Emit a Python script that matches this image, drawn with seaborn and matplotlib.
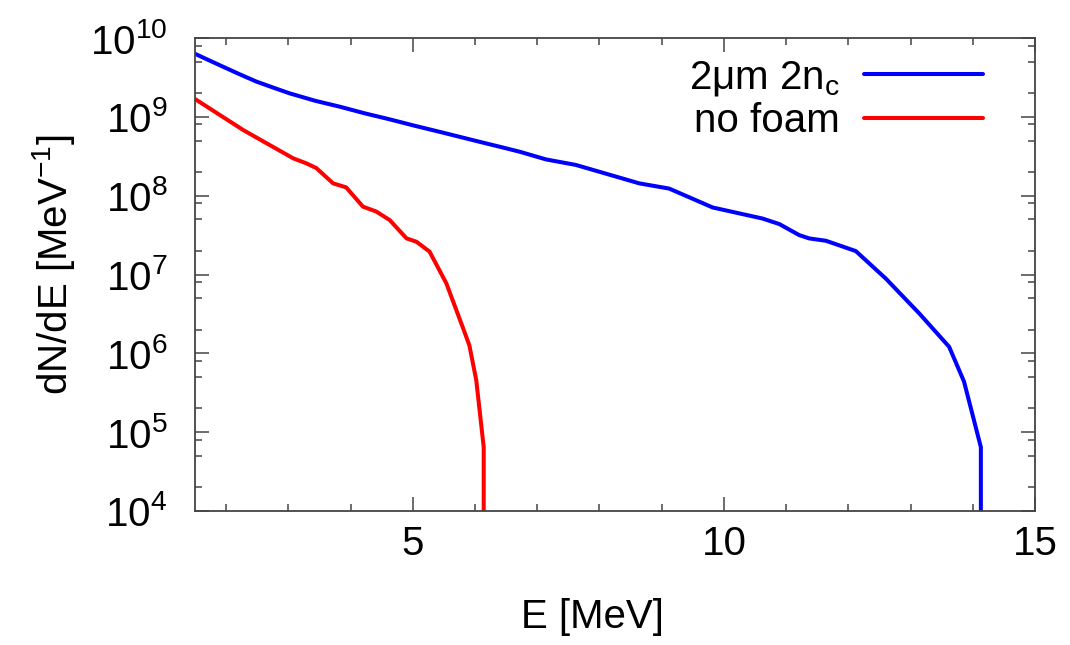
import numpy as np
import pandas as pd
import matplotlib
matplotlib.use("Agg")
import matplotlib.pyplot as plt
import matplotlib.ticker as mticker
import seaborn as sns

# ---- data ----
foam_E = [1.5, 1.69, 1.95, 2.22, 2.49, 2.76, 3.02, 3.43, 3.83, 4.23, 4.63, 5.03, 5.43,
          6.07, 6.40, 6.72, 7.14, 7.62, 8.64, 9.12, 9.82, 10.62, 10.89, 11.21, 11.37,
          11.64, 12.12, 12.60, 13.14, 13.62, 13.86, 14.13, 14.13]
foam_logN = [9.80, 9.73, 9.636, 9.539, 9.446, 9.37, 9.298, 9.204, 9.128, 9.044, 8.968,
             8.887, 8.81, 8.684, 8.62, 8.557, 8.46, 8.39, 8.156, 8.09, 7.85, 7.71, 7.64,
             7.50, 7.458, 7.428, 7.297, 6.95, 6.506, 6.083, 5.64, 4.81, 1.0]

nofoam_E = [1.5, 2.28, 3.08, 3.29, 3.45, 3.72, 3.93, 4.20, 4.41, 4.63, 4.90, 5.06,
            5.27, 5.54, 5.81, 5.91, 6.02, 6.14, 6.14]
nofoam_logN = [9.226, 8.83, 8.473, 8.41, 8.35, 8.156, 8.105, 7.86, 7.80, 7.69, 7.458,
               7.415, 7.29, 6.887, 6.316, 6.10, 5.66, 4.81, 1.0]

labels = [r"2μm 2n$_\mathregular{c}$", "no foam"]
colors = ["#0000ff", "#ff0000"]

df = pd.concat([
    pd.DataFrame({"E": foam_E, "dNdE": 10.0 ** np.array(foam_logN), "case": labels[0]}),
    pd.DataFrame({"E": nofoam_E, "dNdE": 10.0 ** np.array(nofoam_logN), "case": labels[1]}),
])

sns.set_style("ticks")
plt.rcParams["font.family"] = ["Liberation Sans", "DejaVu Sans"]
plt.rcParams["mathtext.fontset"] = "custom"
plt.rcParams["mathtext.rm"] = "Liberation Sans"
plt.rcParams["mathtext.it"] = "Liberation Sans:italic"
plt.rcParams["mathtext.default"] = "regular"
plt.rcParams["text.color"] = "black"
plt.rcParams["axes.labelcolor"] = "black"

fig = plt.figure(figsize=(10.7, 6.45), dpi=100)
ax = fig.add_axes([195 / 1070, 1 - 511 / 645, 840 / 1070, 473 / 645])

for lab, col in zip(labels, colors):
    sub = df[df["case"] == lab]
    sns.lineplot(data=sub, x="E", y="dNdE", ax=ax, color=col, linewidth=2.9,
                 estimator=None, sort=False, label=lab)

ax.set_yscale("log")
ax.set_xlim(1.5, 15)
ax.set_ylim(1e4, 1e10)

ax.xaxis.set_major_locator(mticker.FixedLocator([5, 10, 15]))
ax.xaxis.set_minor_locator(mticker.MultipleLocator(1))
ax.yaxis.set_major_locator(mticker.LogLocator(base=10, numticks=20))
ax.yaxis.set_minor_locator(mticker.LogLocator(base=10, subs=(2.0, 5.0, 8.0), numticks=20))
ax.yaxis.set_minor_formatter(mticker.NullFormatter())

axcol = "#444444"
for s in ax.spines.values():
    s.set_color(axcol)
    s.set_linewidth(1.3)

ax.tick_params(which="both", direction="in", top=True, right=True, color=axcol, width=1.1,
               labelsize=29, labelcolor="black")
ax.tick_params(which="major", length=10)
ax.tick_params(which="minor", length=5)
ax.tick_params(axis="y", which="major", pad=20)
ax.tick_params(axis="x", which="major", pad=10)

ax.set_xlabel("E [MeV]", fontsize=29, color="black")
ax.set_ylabel(r"dN/dE [MeV$^{-1}$]", fontsize=29, color="black")
ax.xaxis.set_label_coords(0.473, -0.183)
ax.yaxis.set_label_coords(-0.14, 0.52)

leg = ax.legend(loc="upper right", bbox_to_anchor=(0.976, 1.025), frameon=False,
                fontsize=29, markerfirst=False, handlelength=2.95, handletextpad=0.6,
                labelspacing=0.1, borderpad=0.3)
for h in leg.get_lines():
    h.set_linewidth(2.9)
for t in leg.get_texts():
    t.set_color("black")

fig.savefig("out.png", dpi=100, facecolor="white")
